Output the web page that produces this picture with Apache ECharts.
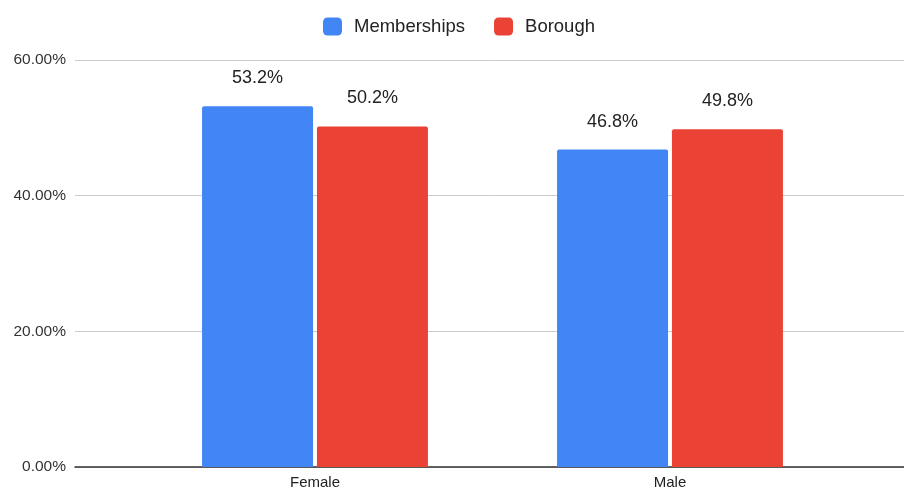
<!DOCTYPE html>
<html>
<head>
<meta charset="utf-8">
<script src="https://cdn.jsdelivr.net/npm/echarts@6/dist/echarts.min.js"></script>
<style>
  html, body { margin: 0; padding: 0; background: #fff; }
  #chart { width: 904px; height: 492px; }
</style>
</head>
<body>
<div id="chart"></div>
<script>
var categories = ['Female', 'Male'];
var memberships = [53.2, 46.8];
var borough = [50.2, 49.8];
var yTicks = [0, 20, 40, 60];

var chart = echarts.init(document.getElementById('chart'));
var font = 'Liberation Sans, Arial, sans-serif';

var option = {
    backgroundColor: '#fff',
    textStyle: { fontFamily: font },
    color: ['#4285f4', '#ea4335'],
    legend: {
        top: 12,
        left: 318,
        itemWidth: 19,
        itemHeight: 18,
        itemGap: 29,
        icon: 'roundRect',
        textStyle: { fontSize: 18.5, color: '#222', fontFamily: font, padding: [0, 0, 0, 7] },
        data: ['Memberships', 'Borough']
    },
    grid: [
        // full-width grid for gridlines and baseline
        { left: 75, right: 0, top: 60, bottom: 25 },
        // narrower grid where the bars sit
        { left: 137.5, right: 56.5, top: 60, bottom: 25 }
    ],
    xAxis: [
        {
            gridIndex: 0, type: 'category', data: categories,
            axisLine: { lineStyle: { color: '#333', width: 1.5 } },
            axisTick: { show: false },
            axisLabel: { show: false }
        },
        {
            gridIndex: 1, type: 'category', data: categories,
            axisLine: { show: false },
            axisTick: { show: false },
            axisLabel: { color: '#222', fontSize: 15, margin: 8, fontFamily: font }
        }
    ],
    yAxis: [
        {
            gridIndex: 0, type: 'value', min: yTicks[0], max: yTicks[yTicks.length - 1], interval: 20,
            axisLine: { show: false },
            axisTick: { show: false },
            splitLine: { lineStyle: { color: '#ccc' } },
            axisLabel: {
                color: '#333', fontSize: 15.5, margin: 9, fontFamily: font,
                formatter: function (v) { return v.toFixed(2) + '%'; }
            }
        },
        {
            gridIndex: 1, type: 'value', min: yTicks[0], max: yTicks[yTicks.length - 1], interval: 20,
            show: false
        }
    ],
    series: [
        {
            name: 'Memberships', type: 'bar', xAxisIndex: 1, yAxisIndex: 1,
            data: memberships,
            barWidth: 111,
            barGap: '3.5%',
            itemStyle: { borderRadius: [2, 2, 0, 0] },
            label: {
                show: true, position: 'top', distance: 19,
                fontSize: 18, color: '#222', fontFamily: font,
                formatter: function (p) { return p.value.toFixed(1) + '%'; }
            }
        },
        {
            name: 'Borough', type: 'bar', xAxisIndex: 1, yAxisIndex: 1,
            data: borough,
            barWidth: 111,
            barGap: '3.5%',
            itemStyle: { borderRadius: [2, 2, 0, 0] },
            label: {
                show: true, position: 'top', distance: 19,
                fontSize: 18, color: '#222', fontFamily: font,
                formatter: function (p) { return p.value.toFixed(1) + '%'; }
            }
        }
    ]
};
chart.setOption(option);
</script>
</body>
</html>
